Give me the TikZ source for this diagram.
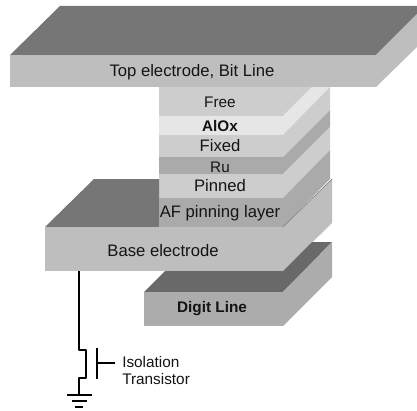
\documentclass[tikz,border=0pt]{standalone}
\usepackage{fontspec}
\setmainfont{Liberation Sans}
\usetikzlibrary{positioning,calc}
\definecolor{faceDark}{RGB}{118,118,118}
\definecolor{faceMid}{RGB}{190,190,190}
\definecolor{faceFree}{RGB}{205,205,205}
\definecolor{faceOx}{RGB}{230,230,230}
\definecolor{faceRu}{RGB}{170,170,170}
\definecolor{faceDigit}{RGB}{172,172,172}
\definecolor{faceDigitTop}{RGB}{105,105,105}
\definecolor{inkDark}{RGB}{20,20,20}
\tikzset{
    layerlabel/.style={text=inkDark, font=\fontsize{11.5}{13}\selectfont, inner sep=0pt},
    widelabel/.style={layerlabel, font=\fontsize{12.5}{14}\selectfont},
    wirepath/.style={black, line width=1.7pt},
}
\begin{document}
\begin{tikzpicture}[x=0.75pt, y=-0.75pt, line join=round]
        \useasboundingbox (0,0) rectangle (417,410);
        % top electrode
        \fill[faceDark] (10,55) -- (60,6) -- (417,6) -- (417,14) -- (376,55) -- cycle;
        \fill[faceMid] (376,55) -- (417,14) -- (417,47) -- (376,87) -- cycle;
        \fill[faceMid] (10,55) rectangle (376,87);
        % stack, front faces
        \fill[faceFree] (159,87) rectangle (283,116);
        \fill[faceOx] (159,116) rectangle (283,135);
        \fill[faceFree] (159,135) rectangle (283,157);
        \fill[faceRu] (159,157) rectangle (283,174);
        \fill[faceFree] (159,174) rectangle (283,198);
        % stack, side faces
        \fill[faceFree] (283,87) -- (312,87) -- (283,116) -- cycle;
        \fill[faceOx] (283,116) -- (312,87) -- (330,87) -- (283,135) -- cycle;
        \fill[faceFree] (283,135) -- (330,87) -- (330,110) -- (283,157) -- cycle;
        \fill[faceRu] (283,157) -- (330,110) -- (330,127) -- (283,174) -- cycle;
        \fill[faceFree] (283,174) -- (330,127) -- (330,150) -- (283,198) -- cycle;
        \fill[faceRu] (283,198) -- (330,150) -- (330,179) -- (283,227) -- cycle;
        % base electrode
        \fill[faceDark] (45,227) -- (94,179) -- (159,179) -- (159,227) -- cycle;
        \fill[faceRu] (159,198) rectangle (283,227);
        \fill[faceMid] (283,227) -- (332,179) -- (332,223) -- (283,271) -- cycle;
        \draw[faceDark, line width=0.4pt] (283,227) -- (332,179);
        \fill[faceMid] (45,227) rectangle (283,271);
        % digit line
        \fill[faceDigitTop] (144,292) -- (165,271) -- (283,271) -- (312,242) -- (332,242) -- (283,292) -- cycle;
        \fill[faceDigit] (283,292) -- (332,242) -- (332,277) -- (283,326) -- cycle;
        \fill[faceDigit] (144,292) rectangle (283,326);
        % labels
        \node[widelabel] (topLabel) at (192,72) {Top electrode, Bit Line};
        \node[layerlabel] (freeLabel) at (220,102) {Free};
        \node[layerlabel] (oxLabel) at (220,126) {\textbf{AlOx}};
        \node[widelabel] (fixedLabel) at (220,146) {Fixed};
        \node[layerlabel] (ruLabel) at (220,167) {Ru};
        \node[widelabel] (pinnedLabel) at (220,186) {Pinned};
        \node[widelabel] (afLabel) at (220,213) {AF pinning layer};
        \node[widelabel] (baseLabel) at (163,251) {Base electrode};
        \node[layerlabel] (digitLabel) at (212,309) {\textbf{Digit Line}};
        \node[layerlabel, anchor=west] (isoLabel) at (122,362) {Isolation};
        \node[layerlabel, anchor=west] (transLabel) at (122,379) {Transistor};
        % transistor and ground
        \coordinate (wireTop) at (79,271);
        \coordinate (wireJog) at (79,350);
        \coordinate (wireBack) at (79,378);
        \coordinate (groundTop) at (79,395);
        \coordinate (gateTop) at (97,348);
        \coordinate (gateBottom) at (97,379);
        \coordinate (gateMid) at (97,363);
        \coordinate (gateEnd) at (115,363);
        \draw[wirepath] (wireTop) -- (wireJog) -- ++(7,0) -- ++(0,28) -- (wireBack) -- (groundTop);
        \draw[wirepath] (gateTop) -- (gateBottom);
        \draw[wirepath] (gateMid) -- (gateEnd);
        \draw[wirepath] (67,395) -- (92,395);
        \draw[wirepath] (72,401) -- (87,401);
        \draw[wirepath] (75,407) -- (83,407);
    \end{tikzpicture}
\end{document}
